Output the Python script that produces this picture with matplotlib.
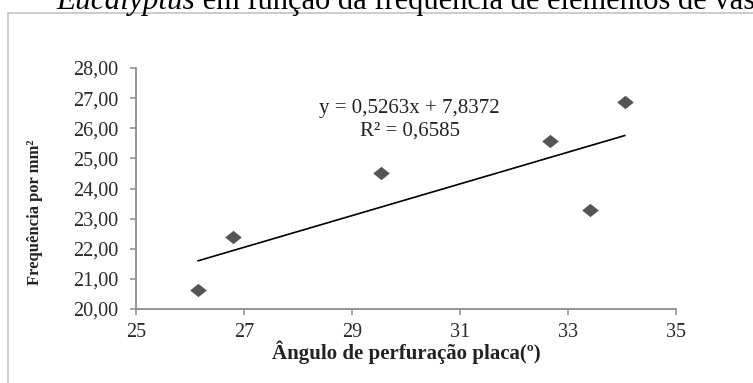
import numpy as np
import matplotlib
matplotlib.use("Agg")
import matplotlib.pyplot as plt
from matplotlib.path import Path
from matplotlib.patches import Rectangle

# valores
angulo = [26.15, 26.79, 29.54, 32.67, 33.40, 34.05]
frequencia = [20.64, 22.40, 24.50, 25.57, 23.27, 26.87]
coef_a = 0.5263
coef_b = 7.8372
equacao = "y = 0,5263x + 7,8372"
r2_texto = "R² = 0,6585"
xticks = [25, 27, 29, 31, 33, 35]
yticks = [20, 21, 22, 23, 24, 25, 26, 27, 28]
titulo_it = "Eucalyptus"
titulo_resto = " em função da frequência de elementos de vaso"

plt.rcParams['font.family'] = ['Liberation Serif', 'DejaVu Serif']

W, H = 753, 383
fig = plt.figure(figsize=(W / 100, H / 100), dpi=100)
fig.patch.set_facecolor('white')

# moldura do gráfico (sai pela direita e por baixo)
fig.patches.append(Rectangle((8 / W, -0.2), 1.3, (1 - 13 / H) + 0.2,
                             transform=fig.transFigure, fill=False,
                             edgecolor='#c4c4c4', lw=1.2))

# titulo cortado no topo, como na figura original
t1 = fig.text(56 / W, 1 - 9 / H, titulo_it, style='italic', fontsize=22.5,
              ha='left', va='baseline')
fig.canvas.draw()
bb = t1.get_window_extent()
fig.text(bb.x1 / W, 1 - 9 / H, titulo_resto, fontsize=22, ha='left', va='baseline')

ax = fig.add_axes([136 / W, 1 - 309 / H, 540 / W, 241 / H])

diamante = Path([(-1, 0), (0, 0.8), (1, 0), (0, -0.8), (-1, 0)])
ax.plot(angulo, frequencia, linestyle='none', marker=diamante,
        markersize=12, color='#555555', markeredgewidth=0)

xs = np.array([min(angulo), max(angulo)])
ax.plot(xs, coef_a * xs + coef_b, color='black', lw=1.2)

ax.text(0.507, 0.834, equacao, transform=ax.transAxes, ha='center', va='center',
        fontsize=15, color='#222222')
ax.text(0.507, 0.739, r2_texto, transform=ax.transAxes, ha='center', va='center',
        fontsize=15, color='#222222')

ax.set_xlim(25, 35)
ax.set_ylim(20, 28)
ax.set_xticks(xticks)
ax.set_xticklabels([str(v) for v in xticks])
ax.set_yticks(yticks)
ax.set_yticklabels([f"{v:.2f}".replace('.', ',') for v in yticks])

for s in ['top', 'right']:
    ax.spines[s].set_visible(False)
for s in ['left', 'bottom']:
    ax.spines[s].set_color('#8c8c8c')
    ax.spines[s].set_linewidth(1.3)

ax.tick_params(axis='both', direction='out', length=4, width=1.1, color='#8c8c8c',
               labelsize=14.5, labelcolor='#2a2a2a')
ax.tick_params(axis='y', pad=9)
ax.tick_params(axis='x', pad=6)

ax.set_xlabel("Ângulo de perfuração placa(º)", fontsize=15, fontweight='bold',
              va='center', color='#222222')
ax.xaxis.set_label_coords(0.5, -0.178)
ax.set_ylabel("Frequência por mm²", fontsize=12, fontweight='bold',
              va='center', color='#222222')
ax.yaxis.set_label_coords(-0.187, 0.40)

fig.savefig("out.png", dpi=100)
